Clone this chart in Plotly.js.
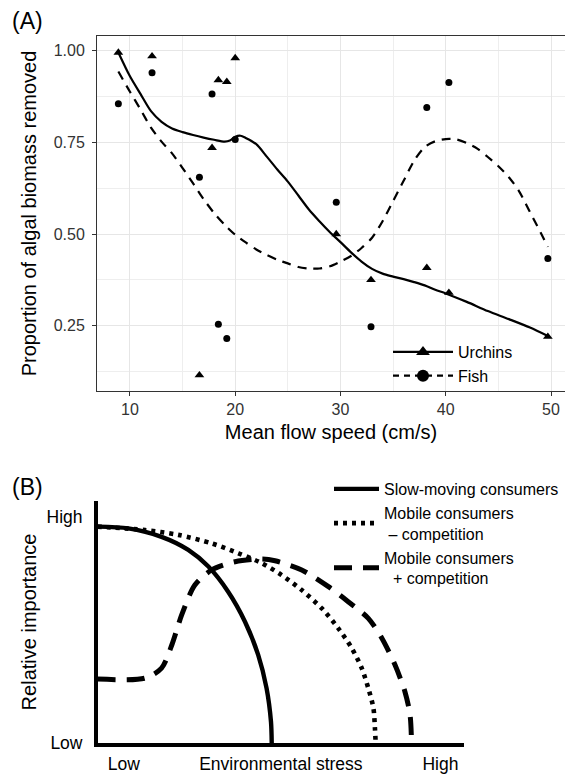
<!DOCTYPE html>
<html><head><meta charset="utf-8">
<script src="https://cdn.plot.ly/plotly-3.0.1.min.js"></script>
<style>html,body{margin:0;padding:0;background:#fff;}</style>
</head><body>
<div id="chart" style="width:565px;height:774px;"></div>
<script>
// ---------- Panel A: observed data ----------
const flowSpeed = [8.9, 12.1, 16.6, 17.8, 18.4, 19.2, 20.0, 29.6, 32.9, 38.2, 40.3, 49.7];
const urchinRemoved = [0.995, 0.985, 0.115, 0.735, 0.92, 0.915, 0.98, 0.50, 0.375, 0.408, 0.34, 0.22];
const fishRemoved = [0.855, 0.94, 0.655, 0.882, 0.254, 0.215, 0.758, 0.587, 0.247, 0.845, 0.913, 0.433];

// ---------- Panel A: smoothed fits ----------
const urchinFitX = [8.9,10,11,12,13,14,15,16,17,18,19,19.5,20,20.5,21,22,23,24,25,26,27,28,29,30,31,32,33,34,35,36,37,38,39,40,42,44,46,48,49.7];
const urchinFitY = [0.995,0.93,0.882,0.835,0.806,0.788,0.778,0.770,0.763,0.757,0.752,0.755,0.765,0.768,0.762,0.745,0.711,0.676,0.643,0.605,0.567,0.535,0.505,0.478,0.450,0.425,0.405,0.392,0.384,0.377,0.369,0.36,0.348,0.338,0.315,0.29,0.268,0.245,0.222];
const fishFitX = [8.9,10,11,12,13,14,15,16,17,18,19,20,21,22,23,24,25,26,27,28,29,30,31,32,33,34,35,36,37,38,39,40,41,42,43,44,45,46,47,48,49,49.7];
const fishFitY = [0.943,0.888,0.84,0.79,0.752,0.72,0.68,0.638,0.595,0.557,0.525,0.498,0.477,0.458,0.443,0.43,0.42,0.41,0.406,0.406,0.412,0.425,0.44,0.462,0.49,0.535,0.59,0.645,0.70,0.737,0.753,0.759,0.758,0.748,0.733,0.71,0.685,0.655,0.615,0.56,0.505,0.465];

const xTicksA = [10, 20, 30, 40, 50];
const yTicksA = [0.25, 0.50, 0.75, 1.00];
const yTickTextA = ['0.25', '0.50', '0.75', '1.00'];

// ---------- Panel B: conceptual curves ----------
const stressSlow = [0, 8.4, 17.5, 24.8, 30.3, 35.7, 40.3, 43.9, 46.2, 47.4, 47.6];
const importanceSlow = [89.4, 88.7, 85.2, 79.8, 72.9, 62.5, 50.1, 36.4, 22.6, 8.8, 0];
const stressMobileNoComp = [0, 13.0, 22.1, 31.2, 38.5, 44.9, 50.3, 55.8, 61.3, 65.8, 69.5, 72.2, 74.0, 75.4, 75.8, 76.0];
const importanceMobileNoComp = [89.4, 88.0, 86.0, 82.5, 78.4, 74.3, 69.4, 63.2, 55.6, 47.4, 39.1, 30.9, 22.6, 14.3, 6.1, 0];
const stressMobileComp = [0, 13.0, 17.5, 20.3, 23.0, 26.6, 31.2, 37.6, 44.9, 48.5, 55.8, 63.1, 68.5, 74.0, 77.7, 81.3, 84.0, 85.4, 85.8];
const importanceMobileComp = [26.4, 26.8, 30.9, 40.5, 52.9, 65.3, 71.5, 74.9, 76.0, 75.3, 71.5, 64.6, 58.4, 51.5, 43.3, 32.2, 21.2, 11.6, 0];

const xTickValsB = [7.2, 50.1, 93.7];
const xTickTextB = ['Low', 'Environmental stress', 'High'];
const yTickValsB = [0, 93.4];
const yTickTextB = ['Low', 'High'];

const FONT = 'Liberation Sans, Arial, Helvetica, sans-serif';

const traces = [
  // Panel A points
  {x: flowSpeed, y: urchinRemoved, xaxis:'x', yaxis:'y', mode:'markers', showlegend:false,
   marker:{symbol:'triangle-up', size:8.5, color:'#000'}, cliponaxis:false},
  {x: flowSpeed, y: fishRemoved, xaxis:'x', yaxis:'y', mode:'markers', showlegend:false,
   marker:{symbol:'circle', size:7, color:'#000'}, cliponaxis:false},
  // Panel A fits
  {x: urchinFitX, y: urchinFitY, xaxis:'x', yaxis:'y', mode:'lines', showlegend:false,
   line:{color:'#000', width:2.2, shape:'spline', smoothing:0.8}},
  {x: fishFitX, y: fishFitY, xaxis:'x', yaxis:'y', mode:'lines', showlegend:false,
   line:{color:'#000', width:2.2, dash:'9px,7px', shape:'spline', smoothing:0.8}},
  // Panel A legend entries
  {x:[null], y:[null], xaxis:'x', yaxis:'y', mode:'lines+markers', name:'Urchins', legend:'legend',
   line:{color:'#000', width:2.2}, marker:{symbol:'triangle-up', size:12, color:'#000'}},
  {x:[null], y:[null], xaxis:'x', yaxis:'y', mode:'lines+markers', name:'Fish', legend:'legend',
   line:{color:'#000', width:2.2, dash:'6px,5px'}, marker:{symbol:'circle', size:12, color:'#000'}},
  // Panel B curves
  {x: stressSlow, y: importanceSlow, xaxis:'x2', yaxis:'y2', mode:'lines', name:'Slow-moving consumers',
   legend:'legend2', line:{color:'#000', width:4.4, shape:'spline', smoothing:0.8}, cliponaxis:false},
  {x: stressMobileNoComp, y: importanceMobileNoComp, xaxis:'x2', yaxis:'y2', mode:'lines',
   name:'Mobile consumers<br> – competition', legend:'legend2',
   line:{color:'#000', width:4.6, dash:'4px,5px', shape:'spline', smoothing:0.8}, cliponaxis:false},
  {x: stressMobileComp, y: importanceMobileComp, xaxis:'x2', yaxis:'y2', mode:'lines',
   name:'Mobile consumers<br>  + competition', legend:'legend2',
   line:{color:'#000', width:5, dash:'18px,11px', shape:'spline', smoothing:0.8}, cliponaxis:false}
];

const gridCol = '#e6e6e6';
const layout = {
  width: 565, height: 774,
  margin: {l:0, r:0, t:0, b:0},
  paper_bgcolor: '#fff', plot_bgcolor: 'rgba(0,0,0,0)',
  font: {family: FONT, color: '#000', size: 16},
  showlegend: true,
  xaxis: {
    domain: [97/565, 1], range: [6.87, 51.33], anchor: 'y',
    tickvals: xTicksA, ticks: 'outside', ticklen: 4, tickcolor: '#333', tickwidth: 1,
    tickfont: {size: 16, color: '#333'},
    showgrid: true, gridcolor: gridCol, gridwidth: 1,
    minor: {dtick: 5, tick0: 5, showgrid: true, gridcolor: '#eeeeee', gridwidth: 1, ticks: ''},
    showline: true, linecolor: '#333', linewidth: 1, mirror: true,
    zeroline: false,
    title: {text: 'Mean flow speed (cm/s)', font: {size: 20, color: '#000'}, standoff: 7}
  },
  yaxis: {
    domain: [1 - 391/774, 1 - 36/774], range: [0.072, 1.040], anchor: 'x',
    tickvals: yTicksA, ticktext: yTickTextA, ticks: 'outside', ticklen: 4, tickcolor: '#333', tickwidth: 1,
    ticklabelstandoff: 4,
    tickfont: {size: 16, color: '#333'},
    showgrid: true, gridcolor: gridCol, gridwidth: 1,
    minor: {dtick: 0.125, tick0: 0.125, showgrid: true, gridcolor: '#eeeeee', gridwidth: 1, ticks: ''},
    showline: true, linecolor: '#333', linewidth: 1, mirror: false,
    zeroline: false,
    title: {text: 'Proportion of algal biomass removed', font: {size: 20, color: '#000'}, standoff: 11}
  },
  xaxis2: {
    domain: [97.5/565, 463.5/565], range: [0, 100], anchor: 'y2',
    tickvals: xTickValsB, ticktext: xTickTextB, ticks: '', ticklabelstandoff: 2,
    tickfont: {size: 17.5, color: '#000'},
    showgrid: false, zeroline: false,
    showline: true, linecolor: '#000', linewidth: 3.5
  },
  yaxis2: {
    domain: [1 - 743/774, 1 - 501/774], range: [0, 100], anchor: 'x2',
    tickvals: yTickValsB, ticktext: yTickTextB, ticks: '', ticklabelstandoff: 8,
    tickfont: {size: 17.5, color: '#000'},
    showgrid: false, zeroline: false,
    showline: true, linecolor: '#000', linewidth: 3.5,
    title: {text: 'Relative importance', font: {size: 20, color: '#000'}, standoff: 5}
  },
  legend: {
    x: 388/565, y: 1 - 335/774, xanchor: 'left', yanchor: 'top',
    bgcolor: 'rgba(0,0,0,0)', borderwidth: 0, font: {size: 16, color: '#000'},
    itemwidth: 60
  },
  legend2: {
    x: 329/565, y: 1 - 472/774, xanchor: 'left', yanchor: 'top',
    bgcolor: 'rgba(0,0,0,0)', borderwidth: 0, font: {size: 16, color: '#000'},
    itemwidth: 45, tracegroupgap: 6
  },
  annotations: [
    {text: '(A)', xref: 'paper', yref: 'paper', x: 10/565, y: 1 - 21/774, xanchor: 'left', yanchor: 'middle',
     showarrow: false, font: {size: 23, color: '#000'}},
    {text: '(B)', xref: 'paper', yref: 'paper', x: 10/565, y: 1 - 487/774, xanchor: 'left', yanchor: 'middle',
     showarrow: false, font: {size: 23, color: '#000'}}
  ]
};

Plotly.newPlot('chart', traces, layout, {staticPlot: true, displayModeBar: false});
</script>
</body></html>
